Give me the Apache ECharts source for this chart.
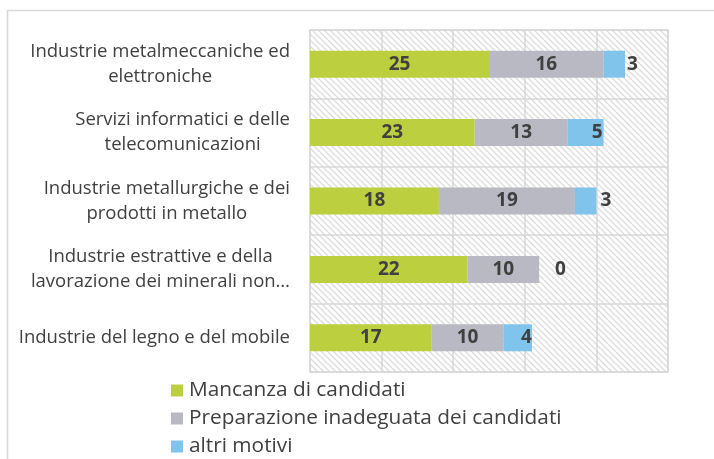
<!DOCTYPE html>
<html>
<head>
<meta charset="utf-8">
<script src="https://cdn.jsdelivr.net/npm/echarts@6/dist/echarts.min.js"></script>
<style>
  html, body { margin: 0; padding: 0; background: #fff; }
  #chart { width: 714px; height: 459px; }
</style>
</head>
<body>
<div id="chart"></div>
<script>
// categorie (a capo come nel grafico originale)
const categories = [
  'Industrie metalmeccaniche ed\nelettroniche',
  'Servizi informatici e delle\ntelecomunicazioni',
  'Industrie metallurgiche e dei\nprodotti in metallo',
  'Industrie estrattive e della\nlavorazione dei minerali non…',
  'Industrie del legno e del mobile'
]
const seriesNames = [
  'Mancanza di candidati',
  'Preparazione inadeguata dei candidati',
  'altri motivi'
]
const mancanza = [25, 23, 18, 22, 17]
const preparazione = [16, 13, 19, 10, 10]
const altri = [3, 5, 3, 0, 4]

const colors = ['#bcd03f', '#b9b9c4', '#80c3eb']
const textColor = '#404040'
const font = '"Open Sans", Lato, sans-serif'

// etichette dei valori "altri motivi": Excel le sposta a mano
const altriLabelPos = [
  { position: 'right', distance: 2 },
  { position: 'insideRight', distance: 1 },
  { position: 'right', distance: 4 },
  { position: 'right', distance: 16 },
  { position: 'insideRight', distance: 0 }
]

// sfondo tratteggiato dell'area del grafico
function hatch() {
  const c = document.createElement('canvas')
  c.width = 6
  c.height = 6
  const ctx = c.getContext('2d')
  ctx.strokeStyle = '#dcdcdc'
  ctx.lineWidth = 1.3
  ctx.beginPath()
  ctx.moveTo(-1, -1); ctx.lineTo(7, 7)
  ctx.moveTo(-4, 2); ctx.lineTo(4, 10)
  ctx.moveTo(2, -4); ctx.lineTo(10, 4)
  ctx.stroke()
  return { image: c, repeat: 'repeat' }
}

const rich = {}
categories.forEach((_, i) => {
  rich['c' + i] = {
    align: 'center',
    fontSize: 18.5,
    lineHeight: 25,
    color: textColor,
    fontFamily: font
  }
})

const labelBase = {
  show: true,
  position: 'inside',
  color: textColor,
  fontWeight: 'bold',
  fontSize: 19,
  fontFamily: font
}

const chart = echarts.init(document.getElementById('chart'))
chart.setOption({
  backgroundColor: '#fff',
  animation: false,
  graphic: [{
    type: 'rect',
    left: 5,
    top: 8,
    shape: { width: 760, height: 500 },
    style: { fill: 'none', stroke: '#d9d9d9', lineWidth: 1.5 },
    silent: true
  }],
  grid: {
    left: 310,
    right: 46,
    top: 30,
    bottom: 87,
    show: true,
    backgroundColor: hatch(),
    borderColor: '#d9d9d9',
    borderWidth: 1.5
  },
  legend: {
    orient: 'vertical',
    left: 171,
    top: 380,
    padding: 0,
    icon: 'rect',
    itemWidth: 12,
    itemHeight: 12,
    itemGap: 7,
    textStyle: {
      fontSize: 20.8,
      lineHeight: 20,
      color: textColor,
      fontFamily: font,
      padding: [0, 0, 0, 1]
    },
    data: seriesNames
  },
  xAxis: {
    type: 'value',
    min: 0,
    max: 50,
    interval: 10,
    axisLabel: { show: false },
    axisLine: { show: false },
    axisTick: { show: false },
    splitLine: { lineStyle: { color: '#d9d9d9', width: 1.5 } }
  },
  yAxis: {
    type: 'category',
    inverse: true,
    data: categories,
    axisLine: { show: false },
    axisTick: { show: false },
    splitLine: { show: true, lineStyle: { color: '#d9d9d9', width: 1.5 } },
    axisLabel: {
      margin: 20,
      align: 'right',
      formatter: (value, idx) => value.split('\n').map(l => `{c${idx}|${l}}`).join('\n'),
      rich
    }
  },
  series: [
    {
      name: seriesNames[0],
      type: 'bar',
      stack: 'tot',
      barWidth: 27,
      itemStyle: { color: colors[0] },
      label: labelBase,
      data: mancanza
    },
    {
      name: seriesNames[1],
      type: 'bar',
      stack: 'tot',
      barWidth: 27,
      itemStyle: { color: colors[1] },
      label: labelBase,
      data: preparazione
    },
    {
      name: seriesNames[2],
      type: 'bar',
      stack: 'tot',
      barWidth: 27,
      itemStyle: { color: colors[2] },
      label: labelBase,
      data: altri.map((v, i) => ({ value: v, label: altriLabelPos[i] }))
    }
  ]
})
</script>
</body>
</html>
